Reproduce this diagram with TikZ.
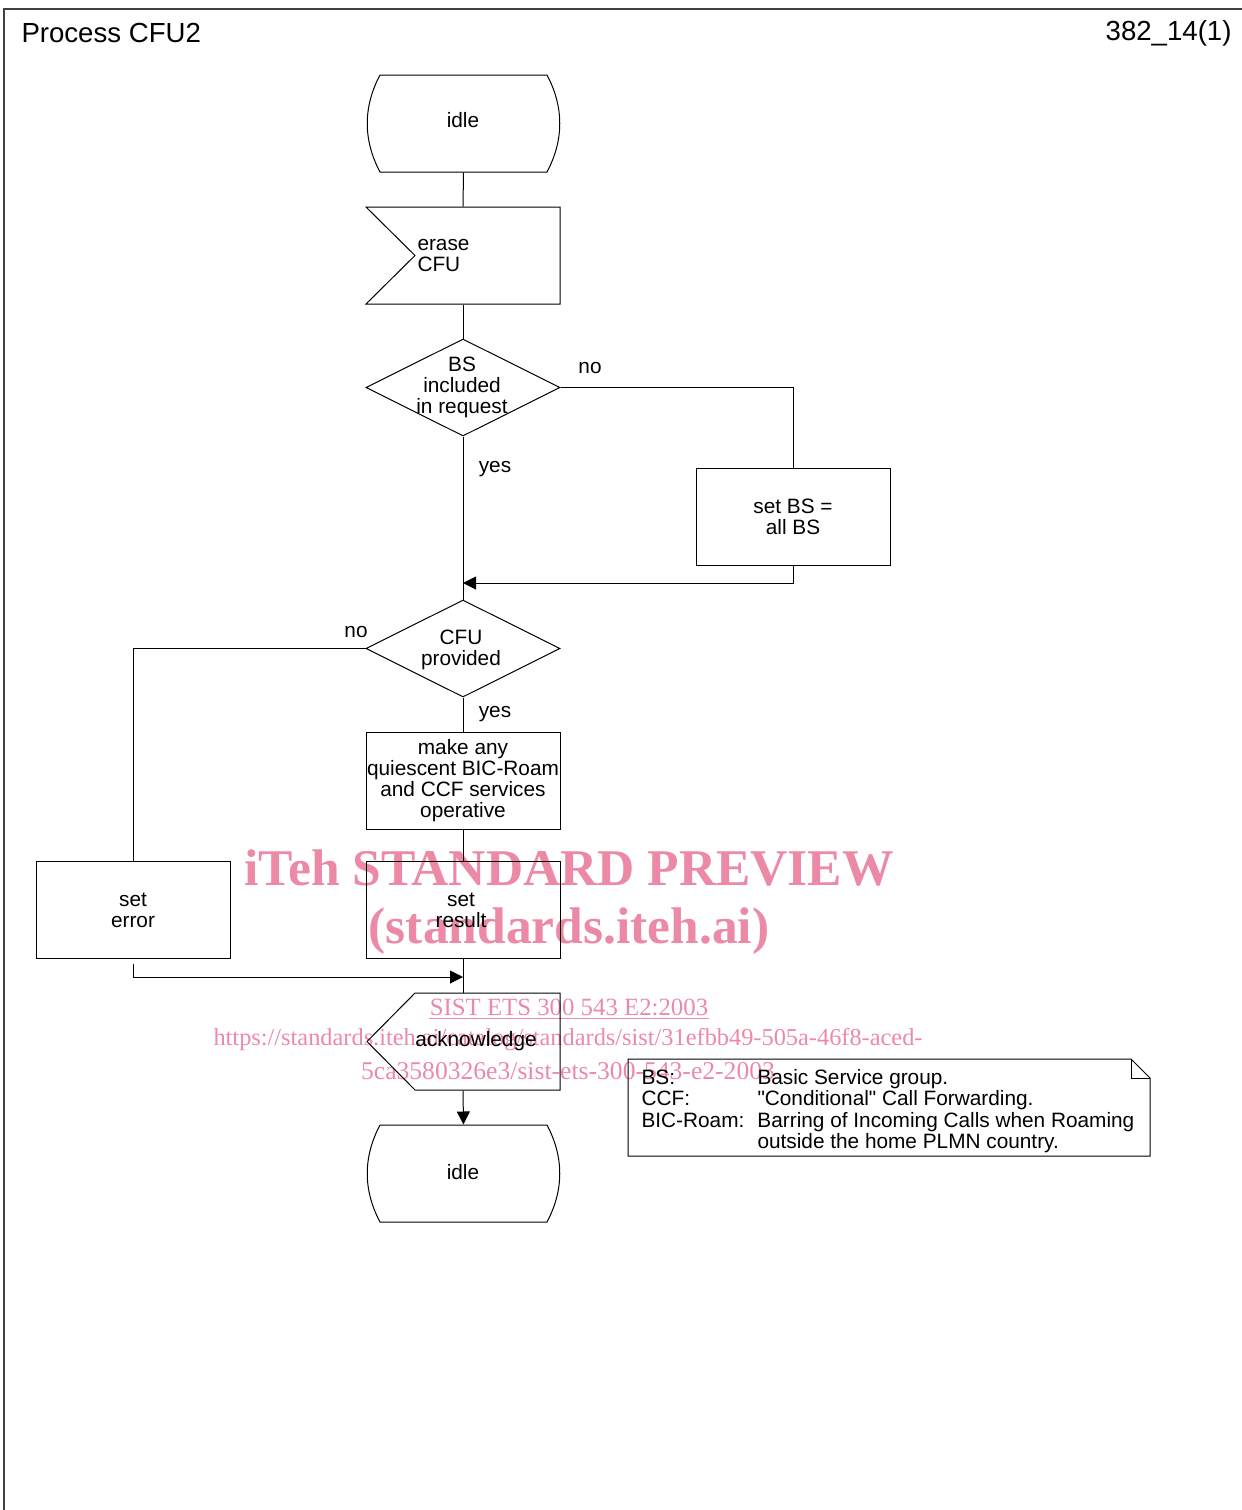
\documentclass[tikz,border=0pt]{standalone}
\usepackage{fontspec}
\setmainfont{Liberation Sans}[Ligatures=TeXOff]
\newfontfamily\wmfont{Liberation Serif}
\usetikzlibrary{shapes.geometric,arrows.meta,calc}
\definecolor{wmpink}{RGB}{236,138,166}
\newcommand{\bodyfont}{\fontsize{10.4}{10.5}\selectfont}
\tikzset{
  lbl/.style={inner sep=0pt, align=center, font=\bodyfont},
  shapebox/.style={rectangle, minimum width=97pt, minimum height=48.5pt, inner sep=0pt, align=center, font=\bodyfont},
  taskbox/.style={shapebox, draw},
  decbox/.style={diamond, draw, minimum width=97pt, minimum height=48.5pt, inner sep=0pt},
  conn/.style={line width=0.5pt},
  arr/.style={conn, -{Triangle[length=6.5pt,width=6.5pt]}},
  wm/.style={inner sep=0pt, text=wmpink, font=\wmfont},
}
\begin{document}
\begin{tikzpicture}[x=0.5pt,y=-0.5pt,line width=0.5pt]
\useasboundingbox (0,0) rectangle (1242,1510);
% frame
\draw[black!75,line width=0.7pt] (1242,9) -- (4,9) -- (4,1510);
\node[anchor=west,inner sep=0pt,font=\fontsize{13.8}{14}\selectfont] (title) at (21,33) {Process CFU2};
\node[anchor=east,inner sep=0pt,font=\fontsize{13.8}{14}\selectfont] (pageid) at (1232,33) {382\_14(1)};

% watermark (behind)
\node[wm,font=\wmfont\bfseries\fontsize{25.75}{26}\selectfont] (wm1) at (569,868) {iTeh STANDARD PREVIEW};
\node[wm,font=\wmfont\bfseries\fontsize{25.75}{26}\selectfont] (wm2) at (569,931) {(standards.iteh.ai)};
\node[wm,font=\wmfont\fontsize{12.4}{13}\selectfont] (wm3) at (569,1007) {SIST ETS 300 543 E2:2003};
\draw[wmpink,line width=0.5pt] ($(wm3.south west)+(0,3)$) -- ($(wm3.south east)+(0,3)$);
\node[wm,font=\wmfont\fontsize{12.18}{13}\selectfont] (wm4) at (568,1040) {https://standards.iteh.ai/catalog/standards/sist/31efbb49-505a-46f8-aced-};
\node[wm,font=\wmfont\fontsize{12.8}{13}\selectfont] (wm5) at (568,1071) {5ca3580326e3/sist-ets-300-543-e2-2003};

% idle (top)
\node[shapebox] (idle1) at (463.5,123.5) {};
\node[lbl] (idle1t) at (463,120) {idle};
\draw (380,75) -- (547,75) .. controls (564,107) and (564,140) .. (547,172) -- (380,172) .. controls (363,140) and (363,107) .. (380,75);

% erase CFU (input)
\node[shapebox] (erase) at (463,255.5) {};
\draw (366,207) -- (560,207) -- (560,304) -- (366,304) -- (415,255.5) -- cycle;
\node[lbl,align=left,anchor=west] (eraset) at (417,255.5) {erase\\CFU};

% decision 1
\node[decbox] (d1) at (463,387.5) {};
\node[lbl] (d1t) at (462,387) {BS\\included\\in request};
\node[lbl] (no1) at (590,368) {no};
\node[lbl] (yes1) at (495,469) {yes};

% set BS
\node[taskbox] (setbs) at (793,516.5) {set BS =\\ all BS};
\coordinate (j1) at (463,583);

% decision 2
\node[decbox] (d2) at (463,648.5) {};
\node[lbl] (d2t) at (461,650) {CFU\\provided};
\node[lbl] (no2) at (356,632) {no};
\node[lbl] (yes2) at (495,714) {yes};

% make any
\node[taskbox] (make) at (463,780.5) {make any\\quiescent BIC-Roam\\and CCF services\\operative};

% set result / set error
\node[taskbox] (setres) at (463,909.5) {};
\node[lbl] (setrest) at (461,910) {set\\result};
\node[taskbox] (seterr) at (133,909.5) {};
\node[lbl] (seterrt) at (133,910) {set\\error};
\coordinate (j2) at (463,977);

% acknowledge (output)
\node[shapebox] (ack) at (463,1041.5) {};
\draw (415,993) -- (560,993) -- (560,1090) -- (415,1090) -- (367,1041.5) -- cycle;
\node[lbl] (ackt) at (476,1041) {acknowledge};

% idle (bottom)
\node[shapebox] (idle2) at (463.5,1173.5) {};
\node[lbl] (idle2t) at (463,1172) {idle};
\draw (380,1125) -- (547,1125) .. controls (564,1157) and (564,1190) .. (547,1222) -- (380,1222) .. controls (363,1190) and (363,1157) .. (380,1125);

% note
\draw (628,1059) -- (1131,1059) -- (1150,1078) -- (1150,1156) -- (628,1156) -- cycle;
\draw (1131,1059) -- (1131,1078) -- (1150,1078);
\node[anchor=west,inner sep=0pt,font=\fontsize{10.4}{10.4}\selectfont] (notet) at (641,1112)
  {\setlength{\tabcolsep}{0pt}\begin{tabular}{@{}p{58pt}@{}l@{}}
   BS: & Basic Service group.\\
   CCF: & "Conditional" Call Forwarding.\\
   BIC-Roam: & Barring of Incoming Calls when Roaming\\
    & outside the home PLMN country.
  \end{tabular}};

% connectors
\draw[conn] (idle1.south) -- (erase.north);
\draw[conn] (erase.south) -- (d1.north);
\draw[conn] (d1.east) -| (setbs.north);
\draw[arr] (setbs.south) |- (j1);
\draw[conn] (d1.south) -- (d2.north);
\draw[conn] (d2.west) -| (seterr.north);
\draw[conn] (d2.south) -- (make.north);
\draw[conn] (make.south) -- (setres.north);
\draw[conn] (setres.south) -- (ack.north);
\draw[arr] ([yshift=-2.5pt]seterr.south) |- (j2);
\draw[arr] (ack.south) -- (idle2.north);
\end{tikzpicture}
\end{document}
